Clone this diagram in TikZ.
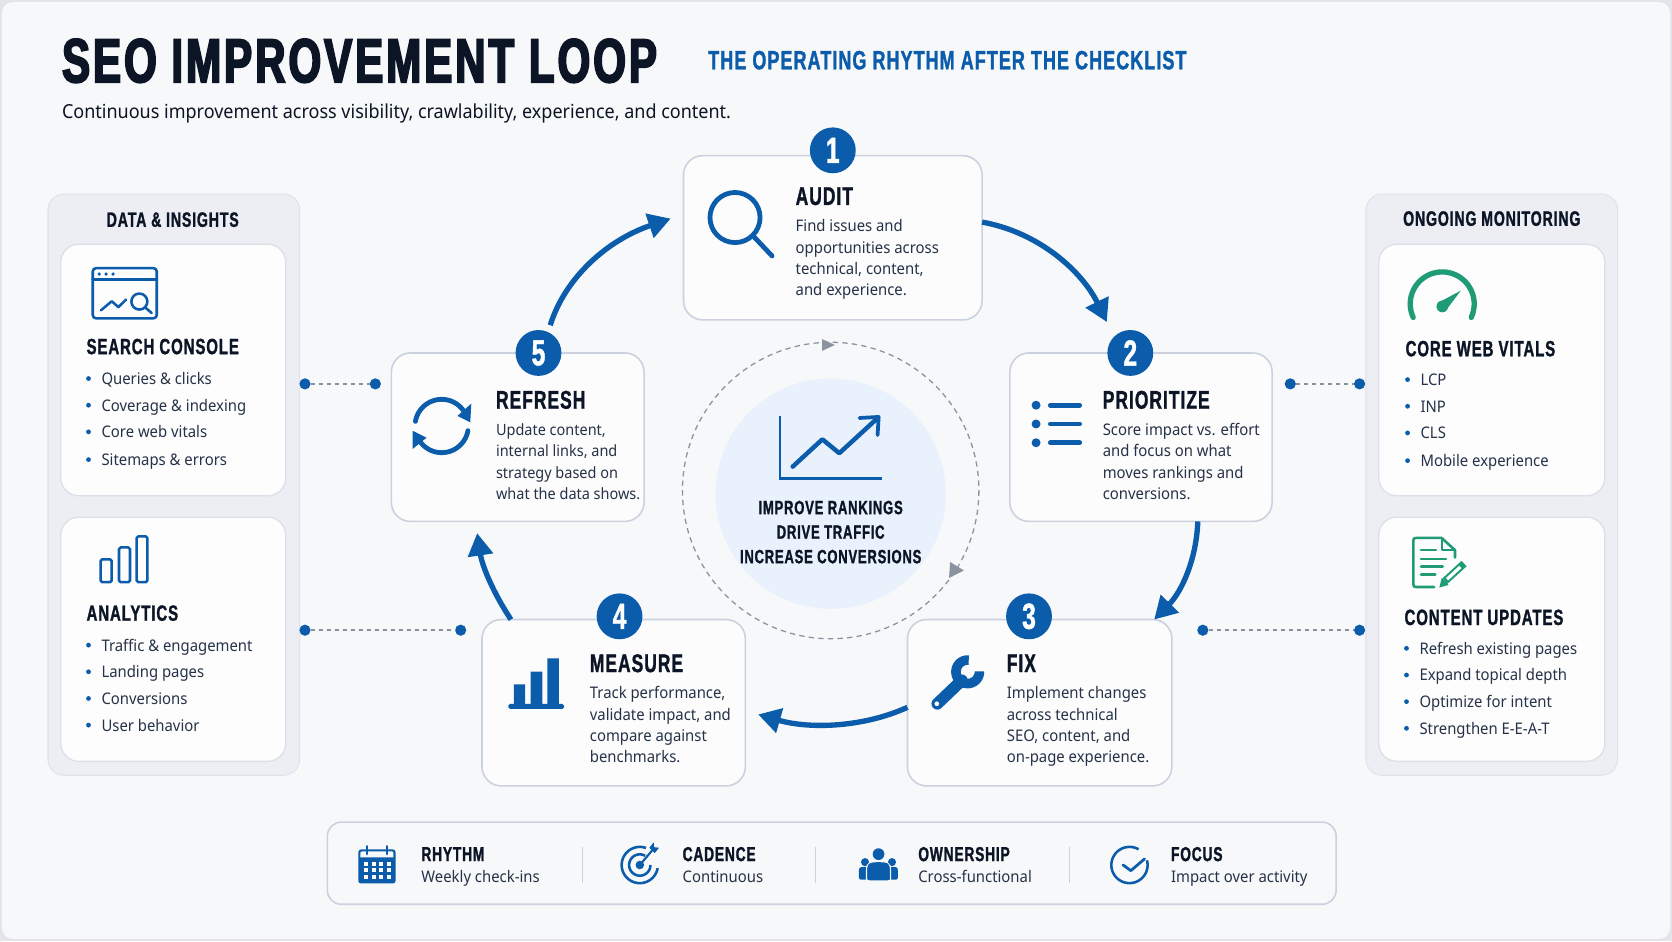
\documentclass[tikz,border=0pt]{standalone}
\usepackage{fontspec}
\setmainfont{Noto Sans}[FakeStretch=0.93]
\newfontfamily\condf{Liberation Sans}[FakeStretch=0.68,LetterSpace=4,FakeBold=1.2]
\newfontfamily\titlef{Liberation Sans}[FakeStretch=0.68,LetterSpace=4.8,FakeBold=3]
\usetikzlibrary{arrows.meta,calc,shapes.geometric}
\definecolor{bgc}{HTML}{F7F8F9}
\definecolor{edgec}{HTML}{E2E4E9}
\definecolor{blu}{HTML}{0B5CAB}
\definecolor{navy}{HTML}{0C1526}
\definecolor{bodyc}{HTML}{263247}
\definecolor{cardb}{HTML}{CBD1DE}
\definecolor{panelc}{HTML}{ECEEF3}
\definecolor{paleb}{HTML}{E8F1FC}
\definecolor{grn}{HTML}{1F9B76}
\definecolor{dashc}{HTML}{8B93A1}
\newcommand\parc[5]{plot[domain=#4:#5,samples=50,variable=\t] ({#1+#3*cos(\t)},{#2-#3*sin(\t)})}
\tikzset{
  stepcard/.style={draw=cardb,line width=1.5pt,fill=white!60!bgc,rounded corners=18pt,inner sep=0pt,outer sep=0pt,anchor=north west},
  sidecard/.style={draw=cardb!70,line width=1.2pt,fill=white!70!bgc,rounded corners=17pt,inner sep=0pt,outer sep=0pt,anchor=north west},
  panelbox/.style={draw=cardb!60,line width=1pt,fill=panelc,rounded corners=15pt,inner sep=0pt,outer sep=0pt,anchor=north west},
  badge/.style={circle,fill=blu,minimum size=43pt,inner sep=0pt,text=white,font=\condf\bfseries\fontsize{34}{34}\selectfont},
  steptitle/.style={anchor=west,inner sep=0pt,text=navy,font=\condf\bfseries\fontsize{24}{24}\selectfont},
  bodytext/.style={anchor=base west,inner sep=0pt,text=bodyc,font=\fontsize{15}{15}\selectfont},
  sidetitle/.style={anchor=west,inner sep=0pt,text=navy,font=\condf\bfseries\fontsize{20.7}{20.7}\selectfont},
  bullettext/.style={anchor=base west,inner sep=0pt,text=bodyc,font=\fontsize{15}{15}\selectfont},
  bulletdot/.style={circle,fill=blu,inner sep=0pt,minimum size=4.5pt},
  paneltitle/.style={inner sep=0pt,text=navy,font=\condf\bfseries\fontsize{19.5}{19.5}\selectfont},
  flowarrow/.style={draw=blu,line width=5pt,-{Triangle[length=21pt,width=23pt]}},
  linkdot/.style={circle,fill=blu,inner sep=0pt,minimum size=10.5pt},
  linkline/.style={draw=dashc,line width=1.5pt,dash pattern=on 4pt off 3.5pt},
  iconline/.style={draw=blu,line width=4.5pt,line cap=round,line join=round},
  thinicon/.style={draw=blu,line width=2.4pt,line cap=round,line join=round},
  greenicon/.style={draw=grn,line width=2.4pt,line cap=round,line join=round},
  footerhead/.style={anchor=west,inner sep=0pt,text=navy,font=\condf\bfseries\fontsize{19}{19}\selectfont},
  footersub/.style={anchor=base west,inner sep=0pt,text=bodyc,font=\fontsize{15}{15}\selectfont},
  centertext/.style={inner sep=0pt,text=navy,font=\condf\bfseries\fontsize{18}{18}\selectfont},
}
\begin{document}
\begin{tikzpicture}[x=1pt,y=-1pt]
\useasboundingbox (0,0) rectangle (1568,882.5);
\fill[edgec] (0,0) rectangle (1568,882.5);
\fill[bgc,rounded corners=10pt] (2,2) rectangle (1566,880.5);
% Title
\node[anchor=base west,inner sep=0pt,text=navy,font=\titlef\bfseries\fontsize{58}{58}\selectfont] (title) at (58,77) {SEO IMPROVEMENT LOOP};
\node[anchor=base west,inner sep=0pt,text=blu,font=\condf\bfseries\fontsize{24.8}{24.8}\selectfont] (subtitle) at (664,65) {THE OPERATING RHYTHM AFTER THE CHECKLIST};
\node[anchor=base west,inner sep=0pt,text=navy,font=\fontsize{18.15}{18.15}\selectfont] (lead) at (58,111) {Continuous improvement across visibility, crawlability, experience, and content.};
% Panels
\node[panelbox,minimum width=236pt,minimum height=545pt] (lp) at (45,182) {};
\node[panelbox,minimum width=236pt,minimum height=545pt] (rp) at (1281,182) {};
\node[paneltitle] (lph) at (162,206) {DATA \& INSIGHTS};
\node[paneltitle] (rph) at (1399,205) {ONGOING MONITORING};
\node[sidecard,minimum width=211pt,minimum height=236pt] (sc) at (57,229) {};
\node[sidecard,minimum width=211pt,minimum height=229pt] (an) at (57,485) {};
\node[sidecard,minimum width=212pt,minimum height=236pt] (cw) at (1293,229) {};
\node[sidecard,minimum width=212pt,minimum height=229pt] (cu) at (1293,485) {};
% Side texts
\node[sidetitle] (sct) at (81,325) {SEARCH CONSOLE};
\foreach \yy/\tt in {355/Queries \& clicks,380/Coverage \& indexing,405/Core web vitals,431/Sitemaps \& errors}{
  \node[bulletdot] at (83,\yy) {}; \node[bullettext] at (95,\yy+5.6) {\tt};}
\node[sidetitle] (ant) at (81,575) {ANALYTICS};
\foreach \yy/\tt in {605/Traffic \& engagement,630/Landing pages,655/Conversions,680/User behavior}{
  \node[bulletdot] at (83,\yy) {}; \node[bullettext] at (95,\yy+5.6) {\tt};}
\node[sidetitle] (cwt) at (1318,327) {CORE WEB VITALS};
\foreach \yy/\tt in {356/LCP,381/INP,406/CLS,432/Mobile experience}{
  \node[bulletdot] at (1320,\yy) {}; \node[bullettext] at (1332,\yy+5.6) {\tt};}
\node[sidetitle] (cut) at (1317,579) {CONTENT UPDATES};
\foreach \yy/\tt in {608/Refresh existing pages,633/Expand topical depth,658/Optimize for intent,683/Strengthen E-E-A-T}{
  \node[bulletdot] at (1319,\yy) {}; \node[bullettext] at (1331,\yy+5.6) {\tt};}
% Side icons
\draw[thinicon,rounded corners=3pt] (87,251.5) rectangle (147,298.5);
\draw[thinicon] (87,262) -- (147,262);
\foreach \xx in {93,99.5,106}{\fill[blu] (\xx,257) circle (1.7);}
\draw[thinicon] (94.7,291) -- (104.8,282.5) -- (111,288) -- (118.2,281);
\draw[thinicon] (130.7,282.8) circle (7.5);
\draw[thinicon] (136,288.2) -- (142.2,293.5);
\draw[thinicon,rounded corners=1.5pt] (94.4,524.5) rectangle (104.7,546);
\draw[thinicon,rounded corners=1.5pt] (111.6,513.4) rectangle (121.9,546);
\draw[thinicon,rounded corners=1.5pt] (128.2,503) rectangle (138.2,546);
\draw[draw=grn,line width=5pt,line cap=round] \parc{1352.5}{285}{30}{-25}{205};
\fill[grn] (1352.6,287.4) circle (5.5);
\fill[grn] (1348.5,284) -- (1370,272.5) -- (1356,291) -- cycle;
\draw[greenicon,line join=round] (1345,550.5) -- (1328,550.5) .. controls (1326,550.5) and (1325.5,550) .. (1325.5,548) -- (1325.5,506.5) .. controls (1325.5,505) and (1326,504.5) .. (1328,504.5) -- (1352,504.5) -- (1364.5,516) -- (1364.5,523);
\draw[greenicon,line width=1.8pt] (1352,504.5) -- (1352,516) -- (1364.5,516);
\draw[greenicon] (1332.6,515.9) -- (1346.7,515.9);
\draw[greenicon] (1332.6,524.4) -- (1356,524.4);
\draw[greenicon] (1332.6,531.5) -- (1353,531.5);
\draw[greenicon] (1332.6,539) -- (1346,539);
\draw[line width=10pt,draw=white] (1354,546) -- (1373,529);
\draw[draw=grn,line width=7pt] (1355,545) -- (1373,528.5);
\draw[draw=white,line width=3pt] (1357,543.2) -- (1369.5,531.7);
\fill[grn] (1349.8,551) -- (1352,542) -- (1358.5,548.5) -- cycle;
% Centre
\draw[dashc,line width=1.2pt,dash pattern=on 5pt off 4pt] (779,460) circle (139);
\fill[paleb] (779,463) circle (108);
\fill[dashc] (783,323.5) -- (771,318) -- (771,329) -- cycle;
\fill[dashc] (890,542) -- (891,527) -- (904,535) -- cycle;
\draw[blu,line width=2.5pt] (731.5,390) -- (731.5,448.5) -- (827,448.5);
\draw[blu,line width=4.2pt,line cap=round,line join=round] (743.4,437.6) -- (771.2,412) -- (787.1,425) -- (822,393);
\draw[blu,line width=3.5pt,line cap=round,line join=round] (806,392) -- (824,391) -- (823,408);
\node[centertext] (c1) at (779,476) {IMPROVE RANKINGS};
\node[centertext] (c2) at (779,499) {DRIVE TRAFFIC};
\node[centertext] (c3) at (779,522) {INCREASE CONVERSIONS};
% Step cards
\node[stepcard,minimum width=280pt,minimum height=154pt] (audit) at (641,146) {};
\node[stepcard,minimum width=246pt,minimum height=158pt] (prio) at (947,331) {};
\node[stepcard,minimum width=248pt,minimum height=156pt] (fix) at (851,581) {};
\node[stepcard,minimum width=247pt,minimum height=156pt] (meas) at (452,581) {};
\node[stepcard,minimum width=237pt,minimum height=158pt] (refr) at (367,331) {};
\node[badge] (b1) at (781,141) {1};
\node[badge] (b2) at (1060,331) {2};
\node[badge] (b3) at (965,578) {3};
\node[badge] (b4) at (581,578) {4};
\node[badge] (b5) at (505,331) {5};
\node[steptitle] (t1) at (746,184) {AUDIT};
\node[steptitle] (t2) at (1034,375) {PRIORITIZE};
\node[steptitle] (t3) at (944,622) {FIX};
\node[steptitle] (t4) at (553,622) {MEASURE};
\node[steptitle] (t5) at (465,375) {REFRESH};
\foreach \yy/\tt in {217.5/Find issues and,237.5/opportunities across,257.5/technical{,} content{,},277.5/and experience.}{\node[bodytext] at (746,\yy) {\tt};}
\foreach \yy/\tt in {408.5/Score impact vs. effort,428.5/and focus on what,448.5/moves rankings and,468.5/conversions.}{\node[bodytext] at (1034,\yy) {\tt};}
\foreach \yy/\tt in {655.5/Implement changes,675.5/across technical,695.5/SEO{,} content{,} and,715.5/on-page experience.}{\node[bodytext] at (944,\yy) {\tt};}
\foreach \yy/\tt in {655.5/Track performance{,},675.5/validate impact{,} and,695.5/compare against,715.5/benchmarks.}{\node[bodytext] at (553,\yy) {\tt};}
\foreach \yy/\tt in {408.5/Update content{,},428.5/internal links{,} and,448.5/strategy based on,468.5/what the data shows.}{\node[bodytext,font=\fontsize{14.6}{14.6}\selectfont] at (465,\yy) {\tt};}
% Step icons
\draw[iconline] (689.3,204) circle (23.5);
\draw[iconline] (707,222) -- (724,240);
\foreach \yy in {380,397.6,415.2}{
  \fill[blu] (971.6,\yy) circle (4.2);
  \draw[iconline] (985,\yy) -- (1012.5,\yy);}
\draw[iconline] \parc{414.2}{399.5}{25}{170}{30};
\draw[iconline] \parc{414.2}{399.5}{25}{-10}{-150};
\fill[blu] (441,396) -- (429,390) -- (442,378.5) -- cycle;
\fill[blu] (387,404) -- (400,410.5) -- (387,421) -- cycle;
\fill[blu] (482,641.8) rectangle (492.4,663) (497.7,629.9) rectangle (508.6,663) (513.3,617.4) rectangle (524.2,663);
\fill[blu,rounded corners=1.5pt] (476.7,660.2) rectangle (529,664.8);
\draw[blu,line width=9pt] \parc{907.5}{630}{11}{85}{362};
\draw[blu,line width=11pt,line cap=round] (902,638) -- (879,660);
\fill[white] (878.5,660) circle (2.2);
% Connectors
\draw[flowarrow] (audit.6.5) .. controls (975,218) and (1015,255) .. ([shift={(-32,-29)}]prio.north);
\draw[flowarrow] (prio.-56.6) .. controls (1122,525) and (1108,555) .. (fix.36.2);
\draw[flowarrow] (fix.182.3) .. controls (810,682) and (760,684) .. ([shift={(12,11)}]meas.east);
\draw[flowarrow] (meas.141.3) .. controls (462,555) and (452,530) .. ([shift={(-38,11)}]refr.south);
\draw[flowarrow] ([shift={(30.5,-26)}]refr.north) .. controls (530,260) and (570,225) .. ([shift={(-12,-18)}]audit.west);
% Links
\node[linkdot] (la) at (286,360) {}; \node[linkdot] (lb) at (352,360) {};
\node[linkdot] (lc) at (286,591) {}; \node[linkdot] (ld) at (432,591) {};
\node[linkdot] (ra) at (1210,360) {}; \node[linkdot] (rb) at (1275,360) {};
\node[linkdot] (rc) at (1128,591) {}; \node[linkdot] (rd) at (1275,591) {};
\draw[linkline] (la) -- (lb);
\draw[linkline] (lc) -- (ld);
\draw[linkline] (ra) -- (rb);
\draw[linkline] (rc) -- (rd);
% Footer
\node[draw=cardb,line width=1.5pt,fill=bgc,rounded corners=13pt,inner sep=0pt,outer sep=0pt,anchor=north west,minimum width=946pt,minimum height=77pt] (foot) at (307,771) {};
\foreach \xx in {546,765,1003}{\draw[cardb,line width=1pt] (\xx,794) -- (\xx,828);}
\node[footerhead] at (395,801) {RHYTHM}; \node[footersub] at (395,828) {Weekly check-ins};
\node[footerhead] at (640,801) {CADENCE}; \node[footersub] at (640,828) {Continuous};
\node[footerhead] at (861,801) {OWNERSHIP}; \node[footersub] at (861,828) {Cross-functional};
\node[footerhead] at (1098,801) {FOCUS}; \node[footersub] at (1098,828) {Impact over activity};
% calendar
\fill[blu,rounded corners=2.5pt] (336,804) rectangle (371,828.5);
\draw[blu,line width=2pt,rounded corners=2pt] (337,806) -- (337,797.5) -- (370,797.5) -- (370,806);
\draw[blu,line width=2.2pt,line cap=round] (344,793.5) -- (344,801) (363,793.5) -- (363,801);
\foreach \xx in {341.5,348.5,355.5,362.5}{\foreach \yy in {808,814,820.5}{\fill[white] (\xx,\yy) rectangle +(4,4);}}
% target
\draw[blu,line width=2.4pt] \parc{600}{811.2}{17}{70}{350};
\draw[blu,line width=2.4pt] \parc{600}{811.2}{10}{60}{360};
\fill[blu] (600,811.2) circle (4);
\draw[blu,line width=2pt] (600,811.2) -- (612,797);
\fill[blu] (609,795) -- (613,790) -- (613.5,794.5) -- (618,795) -- (614,800) -- cycle;
% people
\fill[blu] (823.9,801) circle (5.5);
\fill[blu] (811.2,808.5) circle (3.8);
\fill[blu] (836.5,808.5) circle (3.8);
\fill[blu,rounded corners=2pt] (805.5,825) -- (805.5,818) .. controls (805.5,813) and (808,813) .. (812,813) -- (836,813) .. controls (840,813) and (842,813) .. (842,818) -- (842,825) -- cycle;
\draw[bgc,line width=1.2pt] (812.7,825.5) -- (812.7,816) .. controls (812.7,809) and (816,808) .. (824,808) .. controls (832,808) and (835,809) .. (835,816) -- (835,825.5);
\fill[blu,rounded corners=2pt] (813.5,825.5) -- (813.5,816) .. controls (813.5,810) and (816,808.6) .. (824,808.6) .. controls (832,808.6) and (834.3,810) .. (834.3,816) -- (834.3,825.5) -- cycle;
% check
\draw[blu,line width=2.4pt] \parc{1059.2}{811.2}{17}{60}{375};
\draw[blu,line width=2.6pt,line cap=round,line join=round] (1053.2,811.2) -- (1060.5,816.5) -- (1073.3,805.5);
\end{tikzpicture}
\end{document}
